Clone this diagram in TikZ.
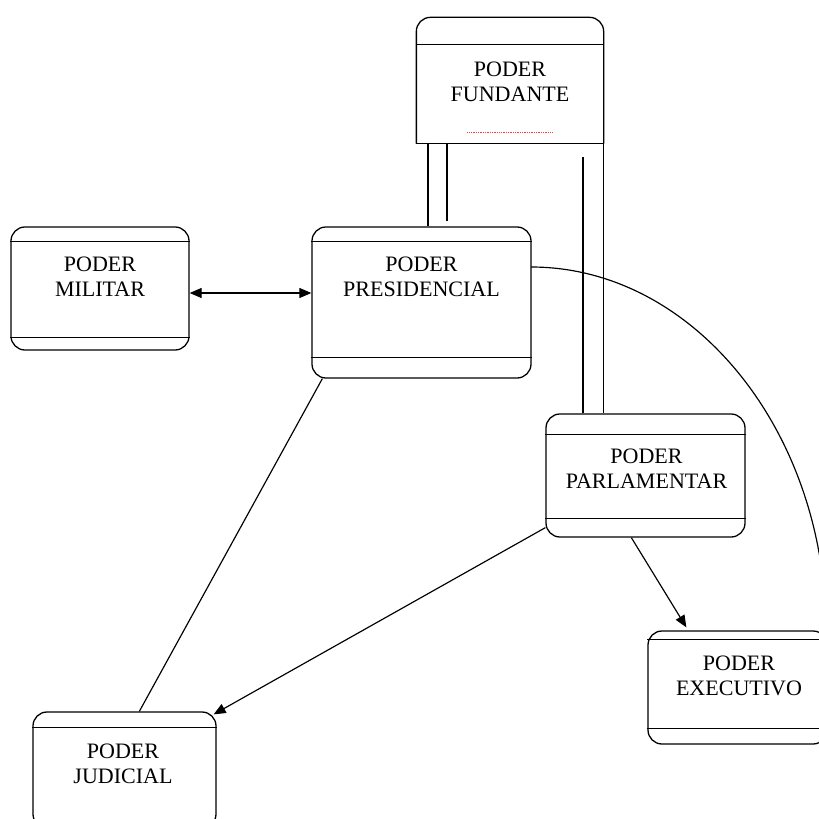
\documentclass[tikz,border=0pt]{standalone}
\usepackage{fontspec}
\setmainfont{Liberation Serif}
\usetikzlibrary{arrows.meta,calc}
\begin{document}
\begin{tikzpicture}[x=0.03cm,y=-0.03cm,
  boxshape/.style={rectangle,draw,line width=1.1pt,rounded corners=0.42cm,inner sep=0pt},
  label/.style={inner sep=0pt,align=center,font=\fontsize{18.8pt}{21.3pt}\selectfont},
  divider/.style={line width=1.1pt},
  conn/.style={line width=1pt},
  tip/.style={-{Triangle[length=0.36cm,width=0.3cm]}}]
\useasboundingbox (0,0) rectangle (819,819);
\clip (0,0) rectangle (819,819);
\fill[white] (0,0) rectangle (819,819);

% boxes
\node[boxshape,draw=none,minimum width=5.58cm,minimum height=3.75cm] (fund) at (510,80.5) {};
\draw[line width=1.1pt,rounded corners=0.42cm] (fund.south west) -- (fund.north west) -- (fund.north east) -- (fund.south east);
\draw[divider] (fund.south west) -- (fund.south east);
\draw[divider] ($(fund.north west)+(0,27)$) -- ($(fund.north east)+(0,27)$);
\draw[red!70!pink,line width=0.5pt,densely dotted] ($(fund.south west)+(51,-11)$) -- ($(fund.south west)+(136,-11)$);

\node[boxshape,minimum width=5.34cm,minimum height=3.69cm] (mil) at (100,288.5) {};
\draw[divider] ($(mil.north west)+(0,15)$) -- ($(mil.north east)+(0,15)$);
\draw[divider] ($(mil.south west)+(0,-13)$) -- ($(mil.south east)+(0,-13)$);

\node[boxshape,minimum width=6.57cm,minimum height=4.53cm] (pres) at (421.5,302.5) {};
\draw[divider] ($(pres.north west)+(0,15)$) -- ($(pres.north east)+(0,15)$);
\draw[divider] ($(pres.south west)+(0,-21)$) -- ($(pres.south east)+(0,-21)$);

\node[boxshape,minimum width=5.97cm,minimum height=3.69cm] (parl) at (645.5,475.5) {};
\draw[divider] ($(parl.north west)+(0,21)$) -- ($(parl.north east)+(0,21)$);
\draw[divider] ($(parl.south west)+(0,-19)$) -- ($(parl.south east)+(0,-19)$);

\node[boxshape,minimum width=5.37cm,minimum height=3.39cm] (exec) at (737.5,687.5) {};
\draw[divider] ($(exec.north west)+(0,9)$) -- ($(exec.north east)+(0,9)$);
\draw[divider] ($(exec.south west)+(0,-16)$) -- ($(exec.south east)+(0,-16)$);

\node[boxshape,minimum width=5.49cm,minimum height=3.48cm] (jud) at (124.5,770) {};
\draw[divider] ($(jud.north west)+(0,16)$) -- ($(jud.north east)+(0,16)$);

% labels
\node[label] (tfund) at (510,82) {PODER\\FUNDANTE};
\node[label] (tmil) at (100,276.5) {PODER\\MILITAR};
\node[label] (tpres) at (421.5,277) {PODER\\PRESIDENCIAL};
\node[label] (tparl) at (646.5,469) {PODER\\PARLAMENTAR};
\node[label] (texec) at (739,676) {PODER\\EXECUTIVO};
\node[label] (tjud) at (123,764) {PODER\\JUDICIAL};

% connectors
\coordinate (ay) at (0,293);
\draw[conn,{Triangle[length=0.36cm,width=0.3cm]}-{Triangle[length=0.36cm,width=0.3cm]}] (mil.east |- ay) -- (pres.west |- ay);

% fundante to presidencial (double line)
\coordinate (fl1) at (428,143);
\coordinate (fl2) at (447,143);
\draw[conn] (fl1) -- (fl1 |- pres.north);
\draw[conn] (fl2) -- ($(fl2 |- pres.north)+(0,-5)$);

% fundante to parlamentar (double line)
\coordinate (fr1) at (583,157);
\draw[conn] (fr1) -- (fr1 |- parl.north);
\draw[conn] (fund.south east) -- (fund.south east |- parl.north);

% presidencial to judicial
\draw[conn] ($(pres.south west)+(11,0)$) -- ($(jud.north west)+(107,0)$);

% parlamentar to judicial
\draw[conn,tip] ($(parl.south west)+(0,-10)$) -- ($(jud.north east)+(-3,3)$);

% parlamentar to executivo
\draw[conn,tip] ($(parl.south west)+(86,0)$) -- ($(exec.north west)+(39,-3)$);

% presidencial to executivo (curve)
\coordinate (cs) at (531,267);
\coordinate (ce) at (826,631);
\draw[conn] (cs) .. controls (694,267) and (826,432) .. (ce);
\end{tikzpicture}
\end{document}
